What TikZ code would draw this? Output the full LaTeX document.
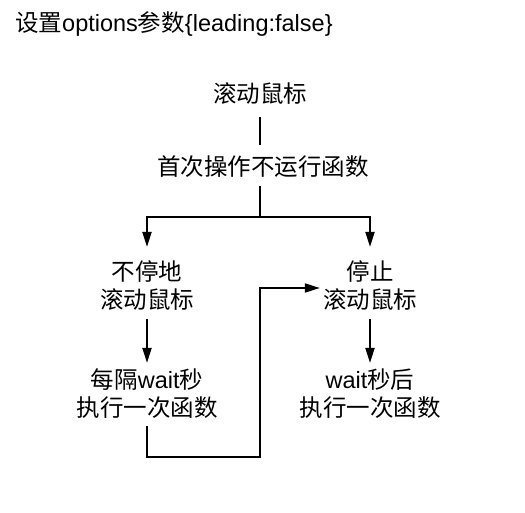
\documentclass[tikz,border=0pt]{standalone}
\usepackage{fontspec}
\setmainfont{Liberation Sans}
\newfontfamily\cjk{Noto Sans CJK SC}
\usetikzlibrary{arrows.meta,calc}
\begin{document}
\begin{tikzpicture}[x=1pt,y=-1pt,
  lbl/.style={inner sep=0pt,align=center,font=\fontsize{23.5}{28}\selectfont},
  conn/.style={line width=2pt,line join=miter},
  arr/.style={conn,-{Triangle[length=15pt,width=9pt]}}]
\useasboundingbox (0,0) rectangle (525,513);
\node[lbl,anchor=west] (title) at (15,24) {{\cjk 设置}options{\cjk 参数}\{leading:false\}};
\node[lbl] (top) at (260,94) {\cjk 滚动鼠标};
\node[lbl] (first) at (263,167) {\cjk 首次操作不运行函数};
\node[lbl] (L1) at (147,286) {\cjk 不停地\\\cjk 滚动鼠标};
\node[lbl] (R1) at (370,286) {\cjk 停止\\\cjk 滚动鼠标};
\node[lbl] (L2) at (147,394) {{\cjk 每隔}wait{\cjk 秒}\\\cjk 执行一次函数};
\node[lbl] (R2) at (370,394) {wait{\cjk 秒后}\\\cjk 执行一次函数};
\coordinate (j) at (260,217);
\coordinate (b1) at (147,457);
\coordinate (b2) at (260,457);
\draw[conn,shorten <=12pt,shorten >=11pt] (top.south) -- (top.south |- first.north);
\draw[conn,shorten <=8pt] (first.south -| j) -- (j);
\draw[arr,shorten >=14pt] (j) -| (L1.north);
\draw[arr,shorten >=14pt] (j) -| (R1.north);
\draw[arr,shorten <=8pt,shorten >=6pt] (L1.south) -- (L2.north);
\draw[arr,shorten <=8pt,shorten >=6pt] (R1.south) -- (R2.north);
\draw[arr,shorten <=7pt,shorten >=3pt] (L2.south) -- (b1) -- (b2) |- ([yshift=-2pt]R1.west);
\end{tikzpicture}
\end{document}
